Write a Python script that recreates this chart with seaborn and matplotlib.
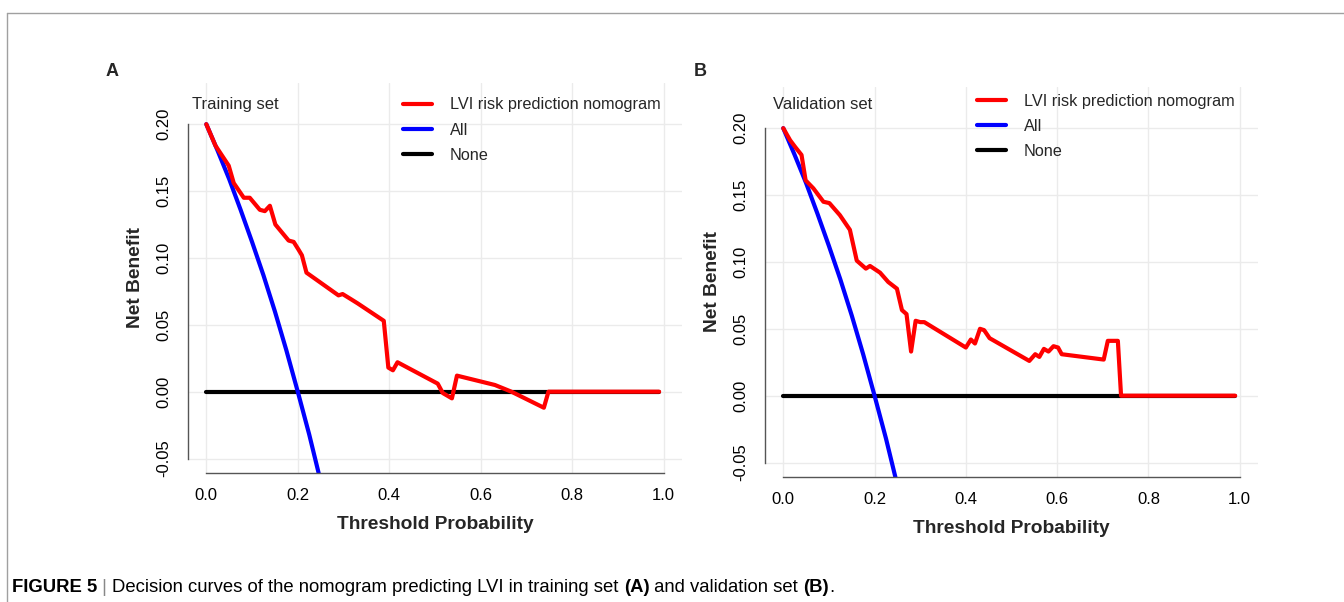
import pandas as pd
import seaborn as sns
import matplotlib.pyplot as plt
from matplotlib.lines import Line2D
from matplotlib.text import Annotation

# ---- data ----
# Training set (panel A)
train_thr = [0.0, 0.020, 0.049, 0.060, 0.082, 0.095, 0.117, 0.128, 0.139, 0.151,
             0.180, 0.191, 0.202, 0.209, 0.219, 0.289, 0.298, 0.317, 0.331, 0.388,
             0.398, 0.408, 0.418, 0.506, 0.517, 0.537, 0.548, 0.631, 0.667, 0.738,
             0.748, 0.99]
train_nb = [0.200, 0.184, 0.169, 0.156, 0.145, 0.145, 0.136, 0.135, 0.139, 0.125,
            0.113, 0.112, 0.106, 0.102, 0.089, 0.072, 0.073, 0.069, 0.066, 0.053,
            0.018, 0.016, 0.022, 0.006, -0.001, -0.005, 0.012, 0.005, 0.000, -0.012,
            0.000, 0.000]

# Validation set (panel B)
valid_thr = [0.0, 0.015, 0.026, 0.040, 0.049, 0.066, 0.088, 0.101, 0.124, 0.146,
             0.161, 0.181, 0.190, 0.212, 0.230, 0.249, 0.260, 0.270, 0.280, 0.290,
             0.300, 0.309, 0.400, 0.411, 0.420, 0.431, 0.440, 0.452, 0.539, 0.552,
             0.561, 0.571, 0.581, 0.592, 0.602, 0.610, 0.702, 0.711, 0.733, 0.740,
             0.99]
valid_nb = [0.200, 0.191, 0.186, 0.180, 0.161, 0.155, 0.145, 0.144, 0.135, 0.124,
            0.101, 0.095, 0.097, 0.092, 0.085, 0.080, 0.064, 0.061, 0.033, 0.056,
            0.055, 0.055, 0.036, 0.042, 0.039, 0.050, 0.049, 0.043, 0.026, 0.031,
            0.029, 0.035, 0.033, 0.037, 0.036, 0.031, 0.027, 0.041, 0.041, 0.000,
            0.000]

# "All" reference curve (same in both panels)
all_thr = [0.0, 0.025, 0.05, 0.075, 0.10, 0.125, 0.15, 0.175, 0.20, 0.225, 0.25]
all_nb = [0.200, 0.180, 0.159, 0.136, 0.112, 0.087, 0.060, 0.031, 0.000, -0.032, -0.067]

# "None" reference line
none_thr = [0.0, 0.99]
none_nb = [0.0, 0.0]

xticks = [0.0, 0.2, 0.4, 0.6, 0.8, 1.0]
xtick_labels = ["0.0", "0.2", "0.4", "0.6", "0.8", "1.0"]
yticks = [-0.05, 0.00, 0.05, 0.10, 0.15, 0.20]
ytick_labels = ["-0.05", "0.00", "0.05", "0.10", "0.15", "0.20"]

model_name = "LVI risk prediction nomogram"
colors = {"None": "black", "All": "#0000FF", model_name: "#FF0000"}


def build_frame(thr, nb):
    parts = [
        pd.DataFrame({"threshold": none_thr, "net_benefit": none_nb, "curve": "None"}),
        pd.DataFrame({"threshold": all_thr, "net_benefit": all_nb, "curve": "All"}),
        pd.DataFrame({"threshold": thr, "net_benefit": nb, "curve": model_name}),
    ]
    return pd.concat(parts, ignore_index=True)


sns.set_style("white")
plt.rcParams["font.family"] = ["Liberation Sans", "DejaVu Sans"]

W, H = 1344, 602
fig = plt.figure(figsize=(W / 100, H / 100), dpi=100)

# panel geometry in pixels: left, top, right, bottom
panels = [
    dict(box=(188, 83, 682, 473), df=build_frame(train_thr, train_nb), letter="A",
         letter_xy=(112, 71), title="Training set", title_xy=(0.0075, 0.944),
         leg_xy=(0.435, 0.963)),
    dict(box=(765, 87, 1258, 477), df=build_frame(valid_thr, valid_nb), letter="B",
         letter_xy=(700, 71), title="Validation set", title_xy=(0.017, 0.954),
         leg_xy=(0.430, 0.982)),
]

axis_gray = "#555555"
for p in panels:
    l, t, r, b = p["box"]
    ax = fig.add_axes([l / W, 1 - b / H, (r - l) / W, (b - t) / H])
    sns.lineplot(data=p["df"], x="threshold", y="net_benefit", hue="curve",
                 hue_order=["None", "All", model_name], palette=colors,
                 estimator=None, sort=False, lw=3, legend=False, ax=ax)
    ax.set_xlim(-0.04, 1.04)
    ax.set_ylim(-0.0608, 0.2308)
    ax.set_xticks(xticks, xtick_labels)
    ax.set_yticks(yticks, ytick_labels)
    ax.grid(True, color="#EBEBEB", lw=1)
    ax.set_axisbelow(True)
    for side in ["top", "right"]:
        ax.spines[side].set_visible(False)
    ax.spines["left"].set_bounds(-0.05, 0.20)
    ax.spines["bottom"].set_bounds(0.0, 1.0)
    for side in ["left", "bottom"]:
        ax.spines[side].set_color(axis_gray)
        ax.spines[side].set_linewidth(1)
    ax.tick_params(axis="both", direction="out", length=6, width=1, color=axis_gray,
                   labelsize=12, labelcolor="black")
    ax.tick_params(axis="x", pad=5)
    ax.tick_params(axis="y", pad=6, labelrotation=90)
    for lab in ax.get_yticklabels():
        lab.set_va("center")
    ax.set_xlabel("Threshold Probability", fontsize=13.8, fontweight="bold", labelpad=9)
    ax.set_ylabel("Net Benefit", fontsize=13.8, fontweight="bold", labelpad=9)

    ax.text(p["title_xy"][0], p["title_xy"][1], p["title"], transform=ax.transAxes,
            ha="left", va="center", fontsize=12)

    handles = [Line2D([], [], color=colors[k], lw=3) for k in [model_name, "All", "None"]]
    ax.legend(handles, [model_name, "All", "None"], loc="upper left",
              bbox_to_anchor=p["leg_xy"], frameon=False, fontsize=11.7,
              handlelength=1.8, handletextpad=1.1, borderpad=0, borderaxespad=0,
              labelspacing=0.62)

    fig.text(p["letter_xy"][0] / W, 1 - p["letter_xy"][1] / H, p["letter"],
             ha="center", va="center", fontsize=13, fontweight="bold")

# thin frame around the figure (top and left edge visible in the reference)
fig.add_artist(Line2D([7 / W, 1], [1 - 13 / H, 1 - 13 / H], color="#A0A0A0", lw=1))
fig.add_artist(Line2D([7 / W, 7 / W], [0, 1 - 13 / H], color="#A0A0A0", lw=1))

# caption, pieces chained one after the other
pieces = [("FIGURE 5", "bold", "black"), (" | ", "normal", "#888888"),
          ("Decision curves of the nomogram predicting LVI in training set ", "normal", "black"),
          ("(A)", "bold", "black"), (" and validation set ", "normal", "black"),
          ("(B)", "bold", "black"), (".", "normal", "black")]
cap_size = 13.3
prev = fig.text(12 / W, 1 - 588 / H, pieces[0][0], ha="left", va="center",
                fontsize=cap_size, fontweight=pieces[0][1], color=pieces[0][2])
for txt, weight, col in pieces[1:]:
    ann = Annotation(txt, xy=(1, 0), xycoords=prev, ha="left", va="bottom",
                     fontsize=cap_size, fontweight=weight, color=col)
    fig.add_artist(ann)
    prev = ann

fig.savefig("out.png", dpi=100)
